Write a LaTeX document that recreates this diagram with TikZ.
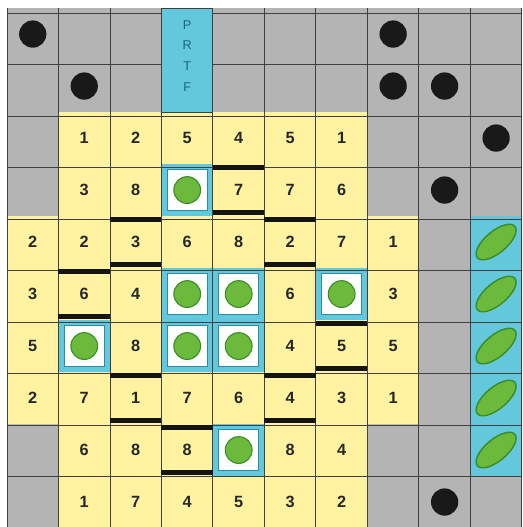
\documentclass[tikz,border=0pt]{standalone}
\usepackage{fontspec}
\setmainfont{Liberation Sans}
\usepackage{xcolor}
\usepackage{tikz}
\usetikzlibrary{shapes.geometric}

\definecolor{cellgray}{RGB}{180,180,180}
\definecolor{cellyellow}{RGB}{255,242,160}
\definecolor{cellcyan}{RGB}{100,200,220}
\definecolor{gemgreen}{RGB}{108,186,60}
\definecolor{gemedge}{RGB}{58,140,40}
\definecolor{frameblue}{RGB}{40,140,170}
\definecolor{labelteal}{RGB}{25,100,125}

\begin{document}
\begin{tikzpicture}[
  x=1cm, y=1.01cm,
  gridline/.style={draw=black!75, line width=0.5pt},
  num/.style={font=\fontsize{9}{10}\selectfont\bfseries, text=black!85, inner sep=0pt},
  dot/.style={circle, fill=black!90, minimum size=0.53cm, inner sep=0pt},
  gem/.style={circle, fill=gemgreen, draw=gemedge, line width=0.6pt, minimum size=0.52cm, inner sep=0pt},
  pod/.style={ellipse, fill=gemgreen, draw=gemedge, line width=0.8pt, minimum width=0.95cm, minimum height=0.42cm, inner sep=0pt, rotate=40},
  wall/.style={fill=black!92},
  frame/.style={draw=frameblue, fill=white, line width=0.6pt}
]
  \useasboundingbox (-0.136,0.02) rectangle (10.02,10.155);

  \fill[cellgray] (0,0) rectangle (10,10);
  \fill[cellyellow] (1,0) rectangle (7,8) (0,2) rectangle (8,6);
  \fill[cellcyan] (3,8) rectangle (4,10) (9,1) rectangle (10,6);
  \foreach \r/\c in {4/4,6/4,6/5,6/7,7/2,7/4,7/5,9/5}
    \fill[cellcyan] (\c-1,10-\r) rectangle (\c,11-\r);

  \draw[gridline] (0,0) grid (10,10);
  \fill[cellcyan] (3,8) rectangle (4,10);
  \draw[gridline] (3,8) rectangle (4,10);

  \node[font=\fontsize{7}{11.5}\selectfont, text=labelteal, align=center] (prtf) at (3.5,9.08) {P\\R\\T\\F};

  \foreach \r/\c in {4/4,6/4,6/5,6/7,7/2,7/4,7/5,9/5} {
    \draw[frame] (\c-0.89,10.11-\r) rectangle (\c-0.11,10.89-\r);
    \node[gem] (g-\r-\c) at (\c-0.5,10.5-\r) {};
  }

  \foreach \r/\c/\v in {3/2/1,3/3/2,3/4/5,3/5/4,3/6/5,3/7/1,
                        4/2/3,4/3/8,4/5/7,4/6/7,4/7/6,
                        5/1/2,5/2/2,5/3/3,5/4/6,5/5/8,5/6/2,5/7/7,5/8/1,
                        6/1/3,6/2/6,6/3/4,6/6/6,6/8/3,
                        7/1/5,7/3/8,7/6/4,7/7/5,7/8/5,
                        8/1/2,8/2/7,8/3/1,8/4/7,8/5/6,8/6/4,8/7/3,8/8/1,
                        9/2/6,9/3/8,9/4/8,9/6/8,9/7/4,
                        10/2/1,10/3/7,10/4/4,10/5/5,10/6/3,10/7/2}
    \node[num] (n-\r-\c) at (\c-0.5,10.5-\r) {\v};

  \foreach \r/\c in {4/5,5/3,5/6,6/2,7/7,8/3,8/6,9/4} {
    \fill[wall] (\c-1,10.98-\r) rectangle (\c,10.88-\r);
    \fill[wall] (\c-1,10.02-\r) rectangle (\c,10.12-\r);
  }

  \foreach \r/\c in {1/1,1/8,2/2,2/8,2/9,3/10,4/9,10/9}
    \node[dot] (d-\r-\c) at (\c-0.5,10.5-\r) {};

  \foreach \r in {5,...,9}
    \node[pod] (p-\r) at (9.5,10.5-\r) {};
\end{tikzpicture}
\end{document}
